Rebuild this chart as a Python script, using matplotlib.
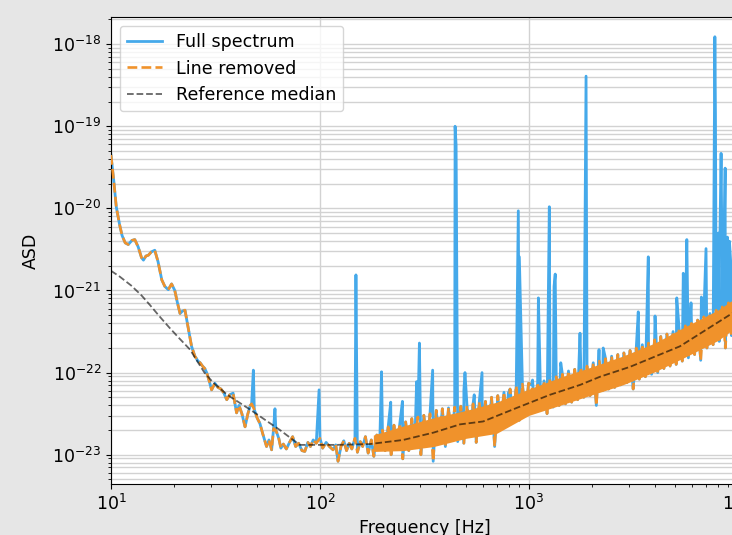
import numpy as np
import matplotlib
matplotlib.use("Agg")
import matplotlib.pyplot as plt

# values, amplitudes kept as log10(ASD)

# low-frequency part of the cleaned spectrum (10 - 126 Hz)
low_freq = [10, 10.3, 10.6, 11.0, 11.3, 11.7, 12.1, 12.6, 13.0, 13.5, 14.0, 14.3,
            14.7, 15.1, 15.6, 16.2, 16.8, 17.5, 18.1, 18.8, 19.5, 20.2, 20.8, 21.4,
            22.0, 22.6, 23.4, 24.3, 25.2, 26.1, 26.7, 27.4, 28.1, 28.7, 29.5, 30.3,
            31.4, 32.5, 33.6, 34.7, 35.8, 37.0, 38.4, 39.9, 41.0, 42.3, 43.8, 45.2,
            46.4, 47.1, 48.5, 50.0, 51.6, 53.3, 55.5, 57.0, 58.7, 60.0, 61.5, 63.5,
            65.0, 66.8, 69.0, 71.5, 74.0, 76.5, 79.0, 82.0, 84.6, 87.5, 90.0, 92.8,
            96.0, 100, 103, 107, 111, 115.5, 119, 122, 126]
low_log = [-19.35, -19.65, -19.98, -20.2, -20.33, -20.42, -20.44, -20.39, -20.38, -20.47, -20.6, -20.63,
           -20.58, -20.57, -20.53, -20.51, -20.65, -20.87, -20.95, -20.99, -20.92, -21.0, -21.15, -21.28,
           -21.25, -21.24, -21.45, -21.68, -21.8, -21.86, -21.88, -21.92, -21.95, -22.0, -22.1, -22.21,
           -22.13, -22.18, -22.2, -22.25, -22.33, -22.27, -22.25, -22.49, -22.4, -22.5, -22.66, -22.5,
           -22.4, -22.38, -22.45, -22.55, -22.62, -22.75, -22.9, -22.82, -22.94, -22.68, -22.7, -22.8,
           -22.92, -22.87, -22.93, -22.85, -22.78, -22.9, -22.86, -22.95, -22.96, -22.85, -22.9, -22.82,
           -22.86, -22.8, -22.92, -22.85, -22.9, -22.94, -22.88, -23.08, -22.9]

# higher frequencies: the jagged orange band
high_freq = [130, 134, 138, 142, 147, 151, 156, 160, 165, 170, 176, 181, 187, 193, 199,
             205, 212, 219, 226, 233, 241, 249, 257, 266, 275, 284, 294, 304, 314, 325,
             336, 348, 360, 372, 385, 398, 412, 426, 441, 456, 472, 488, 505, 522, 540,
             559, 578, 598, 619, 640, 662, 685, 709, 733, 759, 785, 812, 840, 869, 899,
             930, 962, 995, 1030, 1065, 1100, 1140, 1180, 1220, 1260, 1305, 1350, 1395, 1445, 1495,
             1545, 1600, 1655, 1710, 1770, 1830, 1895, 1960, 2030, 2100, 2170, 2245, 2325, 2405, 2485,
             2570, 2660, 2750, 2845, 2945, 3045, 3150, 3260, 3370, 3485, 3605, 3730, 3860, 3990, 4130,
             4270, 4420, 4570, 4730, 4890, 5060, 5230, 5410, 5600, 5790, 5990, 6200, 6410, 6630, 6860,
             7100, 7340, 7600, 7860, 8130, 8410, 8700, 9000, 9310, 9630, 10000]
high_log = [-22.83, -22.95, -22.86, -22.93, -22.8, -22.97, -22.84, -22.9, -22.78, -22.98, -22.82, -23.02, -22.76, -22.9, -22.7,
            -22.95, -22.66, -23.0, -22.64, -22.92, -22.62, -23.05, -22.6, -22.95, -22.56, -22.9, -22.54, -23.0, -22.52, -22.88,
            -22.5, -23.08, -22.46, -22.85, -22.44, -22.9, -22.43, -22.82, -22.42, -22.84, -22.41, -22.86, -22.4, -22.78, -22.38,
            -22.85, -22.36, -22.74, -22.35, -22.72, -22.3, -22.9, -22.28, -22.64, -22.24, -22.6, -22.2, -22.57, -22.16, -22.58,
            -22.14, -22.52, -22.13, -22.15, -22.48, -22.12, -22.45, -22.1, -22.5, -22.07, -22.42, -22.05, -22.4, -22.02, -22.38,
            -21.98, -22.36, -21.96, -22.33, -21.94, -22.3, -21.92, -22.28, -21.88, -22.4, -21.86, -22.22, -21.83, -22.2, -21.8,
            -22.18, -21.78, -22.15, -21.76, -22.12, -21.73, -22.2, -21.7, -22.08, -21.66, -22.05, -21.64, -22.02, -21.6, -22.0,
            -21.56, -21.95, -21.53, -21.92, -21.5, -21.9, -21.47, -21.86, -21.43, -21.82, -21.4, -21.78, -21.36, -21.85, -21.32,
            -21.7, -21.28, -21.66, -21.24, -21.62, -21.2, -21.7, -21.15, -21.55, -21.08, -21.45]

# inner envelope of the dense band
band_freq = [180, 250, 350, 500, 700, 1000, 1400, 2000, 2800, 4000, 5600, 8000, 10000]
band_hi = [-22.76, -22.65, -22.55, -22.46, -22.36, -22.2, -22.06, -21.93, -21.8, -21.64, -21.44, -21.24, -21.07]
band_lo = [-22.96, -22.95, -22.9, -22.8, -22.74, -22.52, -22.4, -22.27, -22.15, -21.99, -21.81, -21.61, -21.43]

# spectral lines present only in the full spectrum
line_freq = [48.0, 60.9, 99, 148.6, 197, 218, 248, 290, 299, 346, 443, 448, 488, 494, 547,
             596, 796, 889, 899, 1040, 1109, 1251, 1318, 1335, 1419, 1754, 1875, 2163, 2265,
             3333, 3722, 4009, 5093, 5472, 5690, 5960, 6680, 7030, 7750, 7800, 7860, 7950,
             8050, 8130, 8200, 8300, 8380, 8450, 8530, 8600, 8680, 8800, 8900, 9000, 9100,
             9250, 9500]
line_log = [-21.97, -22.44, -22.21, -20.81, -21.99, -22.36, -22.35, -22.11, -21.64, -21.97, -19.0, -19.23, -22.22, -22.0, -22.27,
            -22.0, -22.25, -20.03, -20.59, -22.09, -21.09, -19.98, -20.95, -20.8, -21.88, -21.52, -18.39, -21.72, -21.7,
            -21.26, -20.59, -21.31, -21.09, -20.79, -20.38, -21.15, -21.08, -20.49, -17.91, -18.84, -20.35, -20.6,
            -20.3, -20.55, -20.28, -19.33, -20.5, -20.25, -20.45, -20.3, -19.51, -20.5, -20.35, -20.6, -20.4,
            -20.7, -20.9]

# reference median
median_freq = [10, 11, 12.5, 14, 15.4, 17, 19, 21, 23.9, 26, 28, 30.8, 36, 46.3, 64.4, 80, 120,
               173, 250, 350, 468, 603, 873, 1259, 1754, 2188, 3040, 5270, 9350, 10000]
median_log = [-20.76, -20.83, -20.94, -21.06, -21.18, -21.31, -21.45, -21.57, -21.72, -21.87, -22.0, -22.12, -22.27,
              -22.45, -22.7, -22.88, -22.88, -22.87, -22.82, -22.73, -22.63, -22.595, -22.43, -22.27, -22.15,
              -22.05, -21.93, -21.68, -21.28, -21.24]

base_f = np.array(low_freq + high_freq, dtype=float)
base_a = 10.0 ** np.array(low_log + high_log)
full_f = np.concatenate([base_f, line_freq])
full_a = np.concatenate([base_a, 10.0 ** np.array(line_log)])
order = np.argsort(full_f, kind="stable")

fig = plt.figure(figsize=(7.32, 5.35), dpi=100, facecolor="#e6e6e6")
ax = fig.add_axes([0.1516, 0.0953, 0.8566, 0.8729])

ax.plot(full_f[order], full_a[order], color="#45a9ea", lw=2.0, label="Full spectrum", zorder=2)
ax.fill_between(band_freq, 10.0 ** np.array(band_lo), 10.0 ** np.array(band_hi),
                color="#f0922b", lw=0, zorder=2.5)
ax.plot(base_f, base_a, color="#f0922b", lw=1.9, ls="--", label="Line removed", zorder=3)
ax.plot(median_freq, 10.0 ** np.array(median_log), color="k", alpha=0.6, lw=1.3, ls="--",
        label="Reference median", zorder=4)

ax.set_xscale("log")
ax.set_yscale("log")
ax.set_xlim(10, 1e4)
ax.set_ylim(4.4e-24, 2.14e-18)
ax.grid(True, which="major", axis="both", color="#d2d2d2", lw=1)
ax.grid(True, which="minor", axis="y", color="#d2d2d2", lw=1)
ax.set_axisbelow(True)
ax.tick_params(labelsize=12.5)
ax.set_xlabel("Frequency [Hz]", fontsize=12.5)
ax.set_ylabel("ASD", fontsize=12.5, labelpad=9)
ax.legend(loc="upper left", fontsize=12.6)

fig.savefig("out.png", dpi=100, facecolor=fig.get_facecolor())
